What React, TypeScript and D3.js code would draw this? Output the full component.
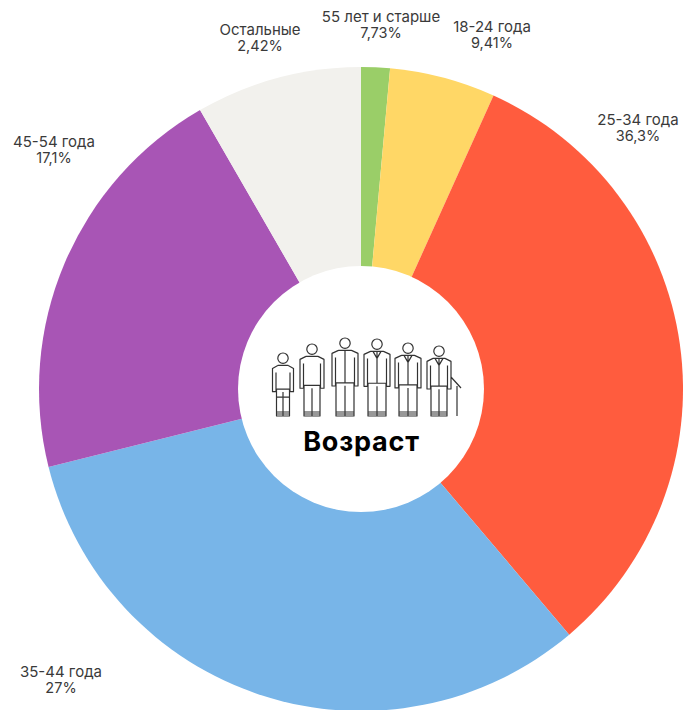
import React from "react";
import * as d3 from "d3";

const categories = ["55 лет и старше", "18-24 года", "25-34 года", "35-44 года", "45-54 года", "Остальные"];
const sliceShares = [1.44, 5.31, 32.06, 32.3, 20.56, 8.33];
const percentLabels = ["7,73%", "9,41%", "36,3%", "27%", "17,1%", "2,42%"];
const colors = ["#9ACE68", "#FFD766", "#FF5C3E", "#78B5E8", "#A855B5", "#F2F1ED"];
const labelX = [381, 492, 638, 61, 54, 260];
const labelY = [22, 32, 125, 677, 147, 35];

const peopleX = [283, 312, 345, 377, 408, 439];
const peopleTop = [352, 343, 337, 338, 342, 345];
const peopleHalfWidth = [10.5, 12, 13, 13, 13, 12];

const W = 684, H = 710, CX = 361, CY = 389, R = 322, IR = 123;
const FONT = "Inter, 'Noto Sans', sans-serif";

function personPath(cx: number, top: number, hw: number, i: number) {
  const p = d3.path();
  const bottom = 416;
  const h = bottom - top;
  const headR = 5.2;
  const headCy = top + headR + 1;
  const sh = headCy + headR + 2;
  const waist = top + h * 0.58;
  const hand = top + h * 0.62;
  // head
  p.moveTo(cx + headR, headCy);
  p.arc(cx, headCy, headR, 0, Math.PI * 2);
  // body outline with arms
  p.moveTo(cx - hw * 0.5, sh);
  p.lineTo(cx - hw, sh + 3);
  p.lineTo(cx - hw, hand);
  p.lineTo(cx - hw + 3.5, hand);
  p.lineTo(cx - hw + 3.5, sh + 7);
  p.moveTo(cx + hw * 0.5, sh);
  p.lineTo(cx + hw, sh + 3);
  p.lineTo(cx + hw, hand);
  p.lineTo(cx + hw - 3.5, hand);
  p.lineTo(cx + hw - 3.5, sh + 7);
  // torso
  p.moveTo(cx - hw * 0.5, sh);
  p.lineTo(cx + hw * 0.5, sh);
  p.moveTo(cx - hw + 3.5, waist);
  p.lineTo(cx + hw - 3.5, waist);
  if (i > 1) {
    p.moveTo(cx, sh);
    p.lineTo(cx, waist);
  }
  if (i > 2) {
    p.moveTo(cx - 4, sh);
    p.lineTo(cx, sh + 7);
    p.lineTo(cx + 4, sh);
  }
  // legs
  const lw = hw - 4;
  p.moveTo(cx - lw, waist);
  p.lineTo(cx - lw, bottom);
  p.lineTo(cx + lw, bottom);
  p.lineTo(cx + lw, waist);
  p.moveTo(cx, waist + 3);
  p.lineTo(cx, bottom);
  p.moveTo(cx - lw, bottom - 4);
  p.lineTo(cx + lw, bottom - 4);
  p.moveTo(cx - lw, bottom - 2);
  p.lineTo(cx + lw, bottom - 2);
  if (i === 0) {
    p.moveTo(cx - lw, waist + 8);
    p.lineTo(cx + lw, waist + 8);
  }
  if (i === peopleX.length - 1) {
    // walking stick
    p.moveTo(cx + hw, hand - 12);
    p.lineTo(cx + hw + 10, hand - 1);
    p.moveTo(cx + hw + 6, hand - 3);
    p.lineTo(cx + hw + 6, bottom);
  }
  return p.toString();
}

export default function App() {
  const pie = d3.pie<number>().sort(null).value((d) => d)(sliceShares);
  const arc = d3.arc<d3.PieArcDatum<number>>().innerRadius(0).outerRadius(R);
  return (
    <svg
      width={W}
      height={H}
      viewBox={`0 0 ${W} ${H}`}
      style={{ position: "absolute", left: 0, top: 0, background: "#fff" }}
    >
      <defs>
        <filter id="soft" x="-5%" y="-5%" width="110%" height="110%">
          <feGaussianBlur stdDeviation="0.6" />
        </filter>
      </defs>
      <g transform={`translate(${CX},${CY})`}>
        {pie.map((d, i) => (
          <path key={categories[i]} d={arc(d) as string} fill={colors[i]} />
        ))}
        <circle r={IR} fill="#fff" />
      </g>
      <g filter="url(#soft)" fill="none" stroke="#333" strokeWidth={1.2} strokeLinejoin="round">
        {peopleX.map((x, i) => (
          <path key={x} d={personPath(x, peopleTop[i], peopleHalfWidth[i], i)} />
        ))}
      </g>
      <text x={361.5} y={451} textAnchor="middle" fontFamily={FONT} fontWeight={700} fontSize={27} letterSpacing={0.8} fill="#000">
        Возраст
      </text>
      {categories.map((c, i) => (
        <text key={c} textAnchor="middle" fontFamily={FONT} fill="#3a3a3a">
          <tspan x={labelX[i]} y={labelY[i]} fontSize={15}>{c}</tspan>
          <tspan x={labelX[i]} y={labelY[i] + 16} fontSize={14.5}>{percentLabels[i]}</tspan>
        </text>
      ))}
    </svg>
  );
}
